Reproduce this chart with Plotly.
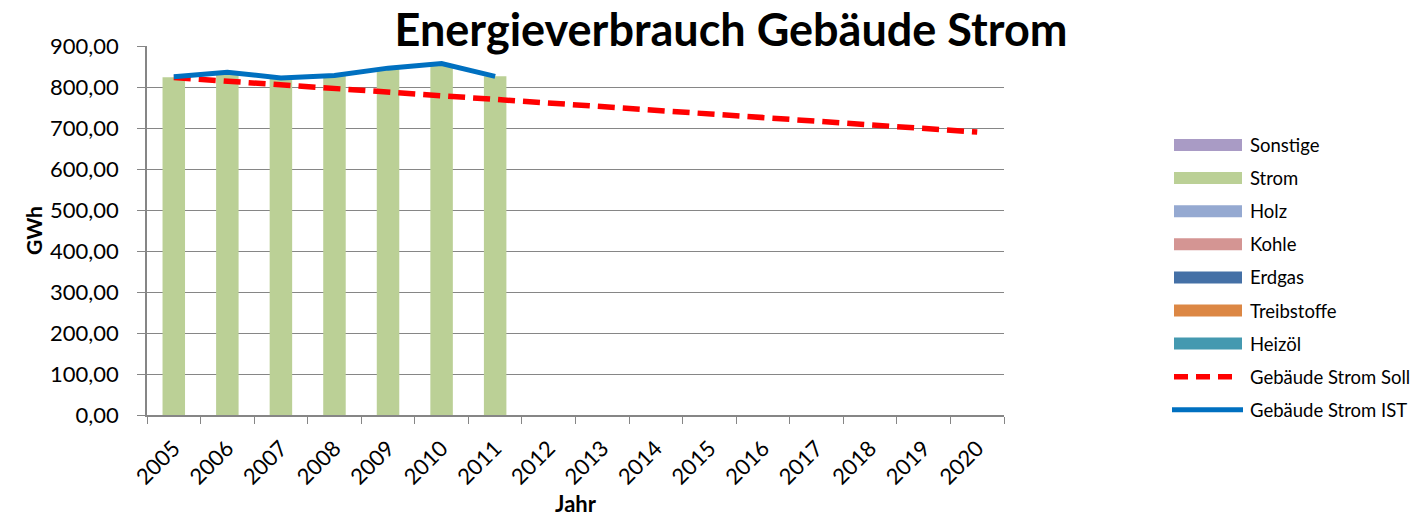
import plotly.graph_objects as go

years = [str(y) for y in range(2005, 2021)]
strom = [824, 836, 822, 828, 846, 856, 826] + [None] * 9
ist = [825, 836, 822, 828, 846, 857, 826] + [None] * 9
soll = [823, 814, 805, 797, 788, 779, 770, 761, 752, 743, 734, 725, 717, 708, 699, 690]

legend_names = ["Sonstige", "Strom", "Holz", "Kohle", "Erdgas", "Treibstoffe", "Heizöl",
                "Gebäude Strom Soll", "Gebäude Strom IST"]
legend_colors = ["#A99BC5", "#BBD096", "#95A9D1", "#D49593", "#4470A6", "#DC8744", "#4499B0",
                 "#FF0000", "#0070C0"]

FONT = "Lato"
W, H = 1417, 525
L, T = 147, 46
PW, PH = 1004 - 147, 415 - 46
R = W - L - PW
B = H - T - PH

fig = go.Figure()
fig.add_trace(go.Bar(x=years, y=strom, name="Strom", marker_color=legend_colors[1],
                     marker_line_width=0, showlegend=False))
fig.add_trace(go.Scatter(x=years, y=soll, name="Gebäude Strom Soll", mode="lines",
                         line=dict(color="#FF0000", width=5.5, dash="17px,8px"), showlegend=False))
fig.add_trace(go.Scatter(x=years, y=ist, name="Gebäude Strom IST", mode="lines",
                         line=dict(color="#0070C0", width=5), showlegend=False))

# manual legend (reference pixel coords converted to paper coords)
def px_x(px):
    return (px - L) / PW

def px_y(py):
    return 1 - (py - T) / PH

shapes = []
annotations = []
y0 = 145
step = 33.1
for i, (nm, col) in enumerate(zip(legend_names, legend_colors)):
    yc = y0 + i * step
    if i < 7:
        shapes.append(dict(type="rect", xref="paper", yref="paper",
                           x0=px_x(1174), x1=px_x(1242), y0=px_y(yc - 6), y1=px_y(yc + 6),
                           fillcolor=col, line_width=0))
    elif i == 7:
        shapes.append(dict(type="line", xref="paper", yref="paper",
                           x0=px_x(1174), x1=px_x(1235), y0=px_y(yc), y1=px_y(yc),
                           line=dict(color=col, width=5.5, dash="14px,8px")))
    else:
        shapes.append(dict(type="line", xref="paper", yref="paper",
                           x0=px_x(1172), x1=px_x(1243), y0=px_y(yc), y1=px_y(yc),
                           line=dict(color=col, width=5)))
    annotations.append(dict(text=nm, xref="paper", yref="paper", x=px_x(1248), y=px_y(yc),
                            xanchor="left", yanchor="middle", showarrow=False,
                            font=dict(family=FONT, size=18.5, color="#000000")))

fig.update_layout(
    width=W, height=H,
    margin=dict(l=L, r=R, t=T, b=B),
    paper_bgcolor="white", plot_bgcolor="white",
    separators=", ",
    bargap=0.58,
    barmode="stack",
    title=dict(text="<b>Energieverbrauch Gebäude Strom</b>", x=731 / W, xref="container",
               xanchor="center", y=1 - 30 / H, yref="container", yanchor="middle",
               font=dict(family=FONT, size=45, color="#000000")),
    font=dict(family=FONT, color="#000000"),
    xaxis=dict(type="category", tickson="boundaries", ticks="outside", ticklen=7,
               tickcolor="#868686", showline=True, linecolor="#868686", linewidth=1.5,
               tickangle=-45, tickfont=dict(size=22, family=FONT), showgrid=False,
               ticklabelstandoff=10,
               title=dict(text="<b>Jahr</b>", font=dict(size=22, family=FONT), standoff=8)),
    yaxis=dict(range=[0, 900], dtick=100, tickformat=".2f", ticks="outside", ticklen=8,
               tickcolor="#868686", showline=True, linecolor="#868686", linewidth=1.5,
               gridcolor="#868686", gridwidth=1.2, zeroline=False,
               tickfont=dict(size=22, family=FONT), ticklabelstandoff=14,
               title=dict(text="<b>GWh</b>", font=dict(size=21, family=FONT), standoff=2)),
    shapes=shapes,
    annotations=annotations,
    showlegend=False,
)

fig.write_html("out.html", config={"displayModeBar": False},
               post_script="document.body.style.margin='0px';")
